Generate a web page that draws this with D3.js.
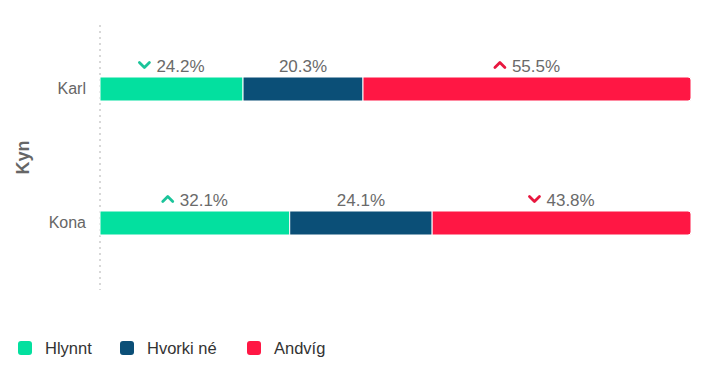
<!DOCTYPE html>
<html>
<head>
<meta charset="utf-8">
<script src="https://cdn.jsdelivr.net/npm/d3@7"></script>
<style>
  body { margin: 0; background: #fff; }
  text { font-family: "Liberation Sans", Arial, sans-serif; }
</style>
</head>
<body>
<div id="chart"></div>
<script>
// categories and series
const categories = ["Karl", "Kona"];
const seriesNames = ["Hlynnt", "Hvorki né", "Andvíg"];
const seriesColors = ["#03e09f", "#0b4f77", "#ff1744"];
const hlynnt = [24.2, 32.1];
const hvorki = [20.3, 24.1];
const andvig = [55.5, 43.8];
// change markers: "down", "up" or null
const hlynntArrow = ["down", "up"];
const hvorkiArrow = [null, null];
const andvigArrow = ["up", "down"];
const arrowColors = ["#1bc49a", null, "#e8173f"];

function drawChart() {
  const width = 713, height = 365;
  const margin = {top: 25, right: 22, bottom: 75, left: 100};

  const svg = d3.select("#chart").append("svg")
    .attr("width", width)
    .attr("height", height);

  const x = d3.scaleLinear()
    .domain([0, 100])
    .range([margin.left, width - margin.right]);

  const y = d3.scaleBand()
    .domain(categories)
    .range([22, 290])
    .padding(0);

  // build stacked rows
  const values = [hlynnt, hvorki, andvig];
  const arrows = [hlynntArrow, hvorkiArrow, andvigArrow];
  const rows = categories.map((c, i) => {
    const r = {cat: c};
    seriesNames.forEach((s, j) => { r[s] = values[j][i]; });
    return r;
  });
  const stacked = d3.stack().keys(seriesNames)(rows);

  // dotted category axis line
  svg.append("line")
    .attr("x1", margin.left).attr("x2", margin.left)
    .attr("y1", margin.top).attr("y2", height - margin.bottom)
    .attr("stroke", "#d8d8d8")
    .attr("stroke-width", 2)
    .attr("stroke-dasharray", "2,4");

  // y axis labels
  const yAxis = svg.append("g")
    .attr("transform", "translate(" + margin.left + ",0)")
    .call(d3.axisLeft(y).tickSize(0).tickPadding(14));
  yAxis.select(".domain").remove();
  yAxis.selectAll("text")
    .attr("fill", "#666")
    .style("font-size", "16px");

  svg.append("text")
    .attr("transform", "translate(29," + ((margin.top + height - margin.bottom) / 2) + ") rotate(-90)")
    .attr("text-anchor", "middle")
    .attr("fill", "#666")
    .style("font-size", "18px")
    .style("font-weight", "bold")
    .text("Kyn");

  const barH = 24;

  stacked.forEach((layer, j) => {
    const g = svg.append("g");
    layer.forEach((d, i) => {
      const cy = y(categories[i]) + y.bandwidth() / 2;
      const x0 = x(d[0]), x1 = x(d[1]);
      const last = j === seriesNames.length - 1;
      if (last) {
        // rounded right end
        const r = 3;
        g.append("path")
          .attr("d", "M" + x0 + "," + (cy - barH / 2) +
            "H" + (x1 - r) + "Q" + x1 + "," + (cy - barH / 2) + " " + x1 + "," + (cy - barH / 2 + r) +
            "V" + (cy + barH / 2 - r) + "Q" + x1 + "," + (cy + barH / 2) + " " + (x1 - r) + "," + (cy + barH / 2) +
            "H" + x0 + "Z")
          .attr("fill", seriesColors[j])
          .attr("stroke", "#fff")
          .attr("stroke-width", 1);
      } else {
        g.append("rect")
          .attr("x", x0).attr("y", cy - barH / 2)
          .attr("width", x1 - x0).attr("height", barH)
          .attr("fill", seriesColors[j])
          .attr("stroke", "#fff")
          .attr("stroke-width", 1);
      }

      // value label with optional arrow
      const label = values[j][i].toFixed(1) + "%";
      const arrow = arrows[j][i];
      const mid = (x0 + x1) / 2;
      const ly = cy - barH / 2 - 5;
      const lg = g.append("g");
      const t = lg.append("text")
        .attr("y", ly)
        .attr("fill", "#6a6a6a")
        .style("font-size", "17px")
        .text(label);
      const tw = t.node().getComputedTextLength();
      const aw = arrow ? 18 : 0;
      const start = mid - (tw + aw) / 2;
      t.attr("x", start + aw);
      if (arrow) {
        const ax = start + 6, ay = ly - 7;
        const dy = arrow === "up" ? -2.5 : 2.5;
        lg.append("path")
          .attr("d", "M" + (ax - 5) + "," + (ay - dy) + "L" + ax + "," + (ay + dy) + "L" + (ax + 5) + "," + (ay - dy))
          .attr("fill", "none")
          .attr("stroke", arrowColors[j])
          .attr("stroke-width", 2.8)
          .attr("stroke-linecap", "round")
          .attr("stroke-linejoin", "round");
      }
    });
  });

  // legend
  const legendX = [18, 120, 247];
  const legend = svg.append("g").attr("transform", "translate(0,348)");
  seriesNames.forEach((s, j) => {
    legend.append("rect")
      .attr("x", legendX[j]).attr("y", -7)
      .attr("width", 14).attr("height", 14)
      .attr("rx", 3)
      .attr("fill", seriesColors[j]);
    legend.append("text")
      .attr("x", legendX[j] + 27).attr("y", 0)
      .attr("dy", "0.35em")
      .attr("fill", "#333")
      .style("font-size", "16.5px")
      .text(s);
  });
}

window.onload = drawChart;
</script>
</body>
</html>
